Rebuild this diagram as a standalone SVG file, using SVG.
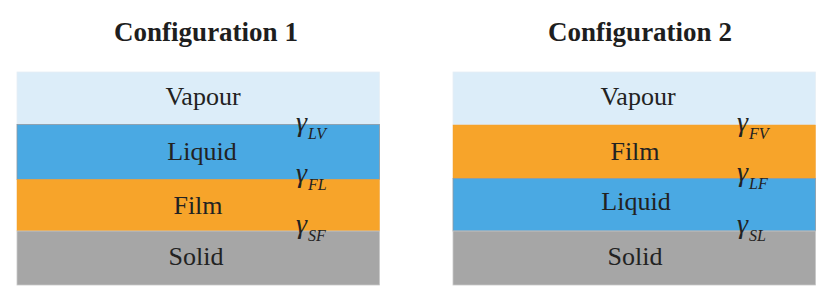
<svg xmlns="http://www.w3.org/2000/svg" width="831" height="301" viewBox="0 0 831 301">
<style>
text{font-family:'Liberation Serif','Times New Roman',Tinos,Times,'DejaVu Serif',serif}
.title{font-weight:bold;font-size:27px;fill:#1e1e1e;text-anchor:middle}
.lab{font-size:26px;fill:#222;text-anchor:middle}
.g{font-style:italic;font-size:28px;fill:#222}
.sub{font-size:16px}
.vap{fill:#dcedf9;stroke:#e6eef4;stroke-width:0.8}
.liq{fill:#4aa9e3;stroke:#8c98a2;stroke-width:0.8}
.film{fill:#f7a42a;stroke:#f0a030;stroke-width:0.5}
.sol{fill:#a6a6a6;stroke:#c8c8c8;stroke-width:0.8}
</style>
<rect width="831" height="301" fill="#ffffff"/>
<g id="config1">
<text class="title" x="206" y="41">Configuration 1</text>
<g id="c1-vapour"><rect class="vap" x="17" y="72" width="362.5" height="52.5"/><text class="lab" x="203" y="105">Vapour</text></g>
<g id="c1-liquid"><rect class="liq" x="17" y="124.5" width="362.5" height="55"/><text class="lab" x="202" y="160">Liquid</text></g>
<g id="c1-film"><rect class="film" x="17" y="179.5" width="362.5" height="51.5"/><text class="lab" x="198" y="214">Film</text></g>
<g id="c1-solid"><rect class="sol" x="17" y="231" width="362.5" height="54"/><text class="lab" x="196" y="265">Solid</text></g>
<text class="g" x="296" y="131">γ<tspan class="sub" dx="1" dy="8">LV</tspan></text>
<text class="g" x="296" y="182">γ<tspan class="sub" dx="1" dy="8">FL</tspan></text>
<text class="g" x="296" y="233">γ<tspan class="sub" dx="1" dy="8">SF</tspan></text>
</g>
<g id="config2">
<text class="title" x="640" y="41">Configuration 2</text>
<g id="c2-vapour"><rect class="vap" x="453" y="72" width="362.5" height="53"/><text class="lab" x="638" y="105">Vapour</text></g>
<g id="c2-film"><rect class="film" x="453" y="125" width="362.5" height="53.5"/><text class="lab" x="635" y="160">Film</text></g>
<g id="c2-liquid"><rect class="liq" x="453" y="178.5" width="362.5" height="52.5"/><text class="lab" x="636" y="210">Liquid</text></g>
<g id="c2-solid"><rect class="sol" x="453" y="231" width="362.5" height="54"/><text class="lab" x="635" y="265">Solid</text></g>
<text class="g" x="737" y="131">γ<tspan class="sub" dx="1" dy="8">FV</tspan></text>
<text class="g" x="737" y="181">γ<tspan class="sub" dx="1" dy="8">LF</tspan></text>
<text class="g" x="737" y="233">γ<tspan class="sub" dx="1" dy="8">SL</tspan></text>
</g>
<g id="connectors"></g>
</svg>
